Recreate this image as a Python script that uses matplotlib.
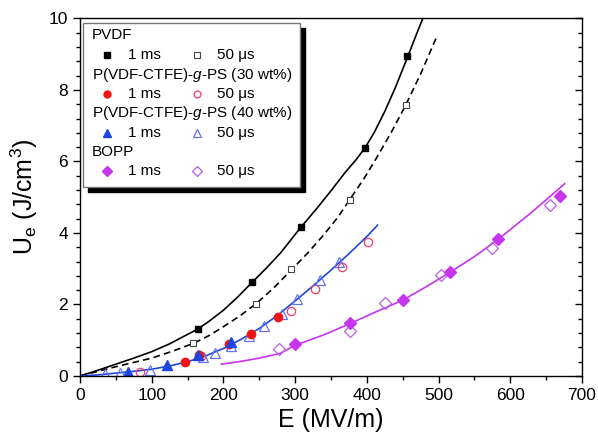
import matplotlib
matplotlib.use("Agg")
import matplotlib.pyplot as plt
from matplotlib.patches import Rectangle
from matplotlib.ticker import MultipleLocator

plt.rcParams["font.family"] = ["Liberation Sans", "DejaVu Sans"]
plt.rcParams["mathtext.fontset"] = "custom"
plt.rcParams["mathtext.rm"] = "Liberation Sans"
plt.rcParams["mathtext.it"] = "Liberation Sans:italic"

# ================= DATA ================= #
# PVDF
pvdf_1ms_E = [164, 240, 308, 397, 456]
pvdf_1ms_U = [1.31, 2.62, 4.16, 6.37, 8.94]
pvdf_50us_E = [158, 245, 294, 376, 454]
pvdf_50us_U = [0.93, 2.02, 2.98, 4.93, 7.57]

# P(VDF-CTFE)-g-PS 30 wt%
ps30_1ms_E = [146, 166, 208, 239, 276]
ps30_1ms_U = [0.40, 0.60, 0.90, 1.17, 1.64]
ps30_50us_E = [84, 169, 294, 328, 365, 401]
ps30_50us_U = [0.12, 0.57, 1.82, 2.43, 3.04, 3.74]

# P(VDF-CTFE)-g-PS 40 wt%
ps40_1ms_E = [67, 121, 164, 211]
ps40_1ms_U = [0.11, 0.30, 0.59, 0.96]
ps40_50us_E = [35, 56, 98, 171, 188, 211, 236, 257, 281, 303, 334, 361]
ps40_50us_U = [0.06, 0.08, 0.17, 0.52, 0.65, 0.84, 1.11, 1.40, 1.74, 2.14, 2.68, 3.19]

# BOPP
bopp_1ms_E = [300, 376, 450, 516, 583, 669]
bopp_1ms_U = [0.89, 1.48, 2.12, 2.91, 3.83, 5.03]
bopp_50us_E = [278, 376, 425, 503, 575, 655]
bopp_50us_U = [0.75, 1.26, 2.05, 2.82, 3.58, 4.78]

# fitted curves (traced)
fit_pvdf_1ms_E = [0, 25, 50, 75, 100, 125, 144, 164, 180, 200, 220, 240, 260, 280, 308,
                  330, 350, 370, 385, 397, 410, 425, 440, 456, 470, 482]
fit_pvdf_1ms_U = [0, 0.16, 0.33, 0.50, 0.68, 0.90, 1.10, 1.31, 1.53, 1.84, 2.21, 2.62, 3.02,
                  3.45, 4.16, 4.68, 5.18, 5.70, 6.05, 6.37, 6.80, 7.40, 8.08, 8.88, 9.60, 10.2]
fit_pvdf_50us_E = [0, 50, 100, 130, 159, 180, 200, 223, 246, 270, 295, 318, 340, 360, 376,
                   396, 415, 435, 454, 475, 497]
fit_pvdf_50us_U = [0, 0.26, 0.50, 0.70, 0.92, 1.13, 1.38, 1.68, 2.03, 2.46, 2.97, 3.45, 3.95,
                   4.45, 4.93, 5.52, 6.15, 6.85, 7.57, 8.45, 9.47]
fit_ps_E = [0, 25, 50, 75, 100, 125, 150, 175, 200, 225, 250, 275, 300, 325, 350, 375, 400, 415]
fit_ps_U = [0, 0.03, 0.08, 0.13, 0.19, 0.28, 0.40, 0.56, 0.77, 1.03, 1.33, 1.69, 2.10,
            2.52, 2.96, 3.42, 3.90, 4.22]
fit_bopp_E = [197, 225, 250, 279, 300, 340, 376, 410, 450, 483, 516, 550, 583, 630, 676]
fit_bopp_U = [0.33, 0.41, 0.50, 0.63, 0.86, 1.15, 1.46, 1.77, 2.12, 2.50, 2.90, 3.34,
              3.82, 4.58, 5.38]

BLACK = "#000000"
RED = "#f01515"
PINK = "#f0406a"
BLUE = "#1f45e0"
LBLUE = "#6272ea"
MAG = "#c535ec"
LMAG = "#b860e6"

# ================= PLOT ================= #
fig = plt.figure(figsize=(5.98, 4.40), dpi=100)
ax = fig.add_axes([0.1338, 0.1455, 0.8394, 0.8125])

ax.plot(fit_pvdf_1ms_E, fit_pvdf_1ms_U, color=BLACK, lw=1.2)
ax.plot(fit_pvdf_50us_E, fit_pvdf_50us_U, color=BLACK, lw=1.2, ls=(0, (4, 2.5)))
ax.plot(fit_ps_E, fit_ps_U, color=BLUE, lw=1.2)
ax.plot(fit_bopp_E, fit_bopp_U, color=MAG, lw=1.2)

ax.plot(pvdf_50us_E, pvdf_50us_U, "s", ms=4.5, mfc="white", mec="#444444", mew=0.8, ls="none")
ax.plot(pvdf_1ms_E, pvdf_1ms_U, "s", ms=5, color=BLACK, ls="none")
ax.plot(ps30_50us_E, ps30_50us_U, "o", ms=6, mfc="none", mec=PINK, mew=0.9, ls="none")
ax.plot(ps40_50us_E, ps40_50us_U, "^", ms=7, mfc="none", mec=LBLUE, mew=0.9, ls="none")
ax.plot(ps30_1ms_E, ps30_1ms_U, "o", ms=6, color=RED, ls="none")
ax.plot(ps40_1ms_E, ps40_1ms_U, "^", ms=7, color=BLUE, ls="none")
ax.plot(bopp_50us_E, bopp_50us_U, "D", ms=6, mfc="none", mec=LMAG, mew=0.9, ls="none")
ax.plot(bopp_1ms_E, bopp_1ms_U, "D", ms=6, color=MAG, ls="none")

ax.set_xlim(0, 700)
ax.set_ylim(0, 10)
ax.xaxis.set_major_locator(MultipleLocator(100))
ax.xaxis.set_minor_locator(MultipleLocator(50))
ax.yaxis.set_major_locator(MultipleLocator(2))
ax.yaxis.set_minor_locator(MultipleLocator(0.4))
ax.tick_params(which="both", direction="out", labelsize=12.5, width=1.0, top=False)
ax.tick_params(which="major", length=5)
ax.tick_params(which="minor", length=3)
ax.tick_params(axis="y", which="both", right=True)
for s in ax.spines.values():
    s.set_linewidth(1.0)

# right-side ticks point inward, left/bottom outward
for t in ax.yaxis.get_major_ticks() + ax.yaxis.get_minor_ticks():
    t.tick2line.set_marker(matplotlib.lines.TICKLEFT)

ax.set_xlabel("E (MV/m)", fontsize=18, labelpad=4)
ax.set_ylabel(r"U$_\mathrm{e}$ (J/cm$^3$)", fontsize=18, labelpad=6)

# ---- legend box with shadow (axes coordinates) ---- #
W = 0.8394 * 598
x0, x1 = 3 / W, 220 / W
y0, y1 = 0.529, 0.987
dx, dy = 5 / W, 5 / 357.5
ax.add_patch(Rectangle((x0 + dx, y0 - dy), x1 - x0, y1 - y0, transform=ax.transAxes,
                       facecolor="black", edgecolor="black", zorder=5))
ax.add_patch(Rectangle((x0, y0), x1 - x0, y1 - y0, transform=ax.transAxes,
                       facecolor="white", edgecolor="#777777", lw=1.0, zorder=6))

rows_px = [35, 55, 75, 94, 113, 133, 152, 171]
rows = [(376 - p) / 357.5 for p in rows_px]
titles = ["PVDF", "P(VDF-CTFE)-$g$-PS (30 wt%)", "P(VDF-CTFE)-$g$-PS (40 wt%)", "BOPP"]
leg_styles = [
    (dict(marker="s", ms=4, color=BLACK), dict(marker="s", ms=4, mfc="white", mec="#444444", mew=0.8)),
    (dict(marker="o", ms=5, color=RED), dict(marker="o", ms=5, mfc="none", mec=PINK, mew=0.9)),
    (dict(marker="^", ms=6, color=BLUE), dict(marker="^", ms=6, mfc="none", mec=LBLUE, mew=0.9)),
    (dict(marker="D", ms=5, color=MAG), dict(marker="D", ms=5, mfc="none", mec=LMAG, mew=0.9)),
]
for i, title in enumerate(titles):
    ty = rows[2 * i]
    my = rows[2 * i + 1]
    ax.text(12 / W, ty, title, transform=ax.transAxes, fontsize=11, va="center", ha="left", zorder=7)
    s1, s2 = leg_styles[i]
    ax.plot([27 / W], [my], transform=ax.transAxes, ls="none", zorder=7, clip_on=False, **s1)
    ax.text(48 / W, my, "1 ms", transform=ax.transAxes, fontsize=11, va="center", ha="left", zorder=7)
    ax.plot([117 / W], [my], transform=ax.transAxes, ls="none", zorder=7, clip_on=False, **s2)
    ax.text(137 / W, my, "50 \u03bcs", transform=ax.transAxes, fontsize=11, va="center", ha="left", zorder=7)

fig.savefig("out.png", dpi=100)
